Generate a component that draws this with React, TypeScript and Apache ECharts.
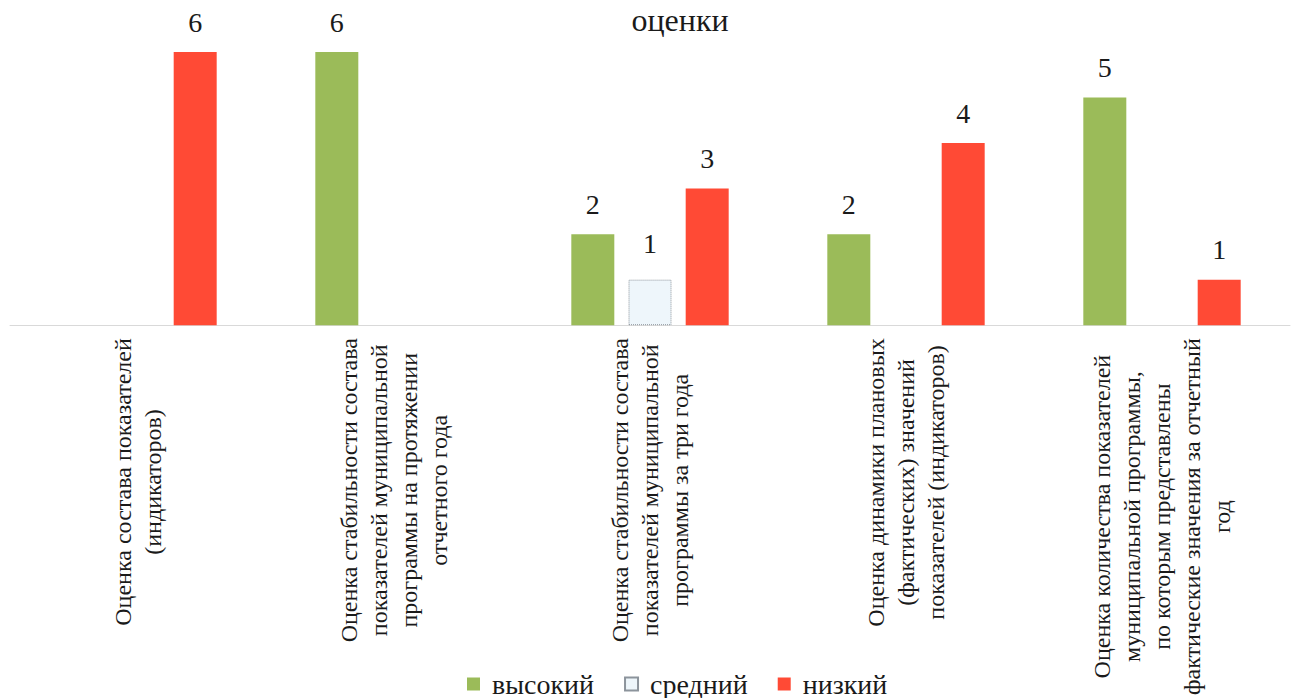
import React, { useEffect, useRef } from "react";
import * as echarts from "echarts";

const categories: string[][] = [
  ["Оценка состава показателей", "(индикаторов)"],
  ["Оценка стабильности состава", "показателей муниципальной", "программы на протяжении", "отчетного года"],
  ["Оценка стабильности состава", "показателей муниципальной", "программы за три года"],
  ["Оценка динамики плановых", "(фактических) значений", "показателей (индикаторов)"],
  ["Оценка количества показателей", "муниципальной программы,", "по которым представлены", "фактические значения за отчетный", "год"],
];
const seriesNames = ["высокий", "средний", "низкий"];
const high: (number | null)[] = [null, 6, 2, 2, 5];
const mid: (number | null)[] = [null, null, 1, null, null];
const low: (number | null)[] = [6, null, 3, 4, 1];

const FONT = "Liberation Serif";

export default function App() {
  const ref = useRef<HTMLDivElement>(null);
  useEffect(() => {
    document.body.style.margin = "0";
    const chart = echarts.init(ref.current!, null, { renderer: "svg" });
    const labelCommon = {
      show: true,
      position: "top" as const,
      distance: 16,
      fontSize: 28,
      fontFamily: FONT,
      color: "#1a1a1a",
    };
    chart.setOption({
      animation: false,
      backgroundColor: "#ffffff",
      textStyle: { fontFamily: FONT },
      title: {
        text: "оценки",
        left: 675,
        textAlign: "center",
        top: 0,
        textStyle: { fontSize: 32, lineHeight: 30, fontWeight: "normal", fontFamily: FONT, color: "#1a1a1a" },
      },
      legend: {
        data: seriesNames,
        left: 462,
        top: 665,
        itemWidth: 13,
        itemHeight: 13,
        itemGap: 30,
        icon: "rect",
        textStyle: { fontSize: 28, lineHeight: 28, fontFamily: FONT, color: "#1a1a1a", padding: [0, 0, 0, 7] },
      },
      grid: { left: 10, right: 5, top: 52, bottom: 371, containLabel: false },
      xAxis: {
        type: "category",
        data: categories.map((c) => c.join("\n")),
        axisLine: { show: true, lineStyle: { color: "#d9d9d9", width: 1 } },
        axisTick: { show: false },
        axisLabel: {
          interval: 0,
          rotate: 90,
          margin: 13,
          fontSize: 24,
          lineHeight: 30,
          fontFamily: FONT,
          color: "#1a1a1a",
          formatter: (v: string) => v.split("\n").map((l) => `{c|${l}}`).join("\n"),
          rich: {
            c: { align: "center", fontSize: 24, lineHeight: 30, fontFamily: FONT, color: "#1a1a1a" },
          },
        },
      },
      yAxis: {
        type: "value",
        min: 0,
        max: 6,
        show: false,
        splitLine: { show: false },
      },
      series: [
        {
          name: seriesNames[0],
          type: "bar",
          data: high,
          barWidth: 43,
          barGap: "33%",
          itemStyle: { color: "#9bbb59" },
          label: labelCommon,
        },
        {
          name: seriesNames[1],
          type: "bar",
          data: mid,
          barWidth: 43,
          barGap: "33%",
          itemStyle: { color: "#eef6fb", borderColor: "#8c949c", borderWidth: 1, borderType: "dotted" },
          label: { ...labelCommon, distance: 22 },
        },
        {
          name: seriesNames[2],
          type: "bar",
          data: low,
          barWidth: 43,
          barGap: "33%",
          itemStyle: { color: "#ff4a35" },
          label: labelCommon,
        },
      ],
    });
    return () => chart.dispose();
  }, []);
  return (
    <div
      ref={ref}
      style={{ position: "absolute", left: 0, top: 0, width: 1295, height: 698 }}
    />
  );
}
